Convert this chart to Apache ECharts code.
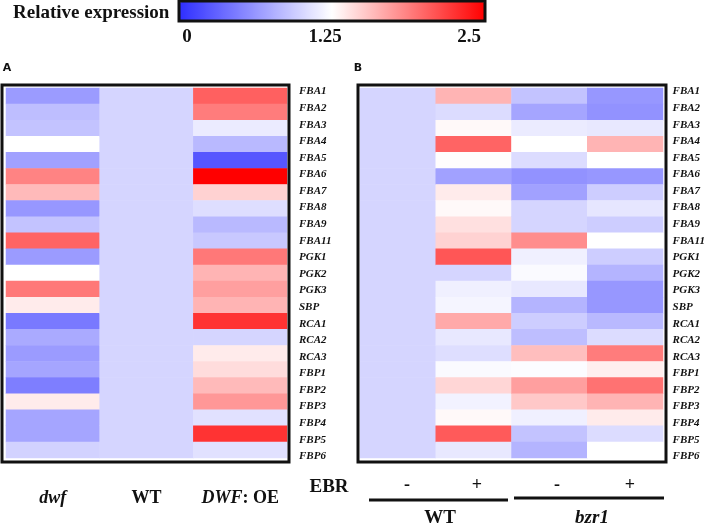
<!DOCTYPE html>
<html>
<head>
<meta charset="utf-8">
<script src="https://cdn.jsdelivr.net/npm/echarts@6/dist/echarts.min.js"></script>
<style>
html,body{margin:0;padding:0;background:#fff;}
#c{width:708px;height:528px;}
</style>
</head>
<body>
<div id="c"></div>
<script>
// ---- data ----
const genes = ['FBA1','FBA2','FBA3','FBA4','FBA5','FBA6','FBA7','FBA8','FBA9','FBA11',
  'PGK1','PGK2','PGK3','SBP','RCA1','RCA2','RCA3','FBP1','FBP2','FBP3','FBP4','FBP5','FBP6'];
const colsA = ['dwf', 'WT', 'DWF: OE'];
const colsB = ['WT -', 'WT +', 'bzr1 -', 'bzr1 +'];
const signsB = ['-', '+', '-', '+'];
const groupsB = ['WT', 'bzr1'];
const scaleTicks = ['0', '1.25', '2.5'];

const dwf   = [0.65,0.86,0.89,1.25,0.69,1.86,1.59,0.63,0.89,2.01,0.65,1.25,1.91,1.35,0.45,0.74,0.65,0.71,0.48,1.35,0.71,0.71,0.98];
const wtA   = [1,1,1,1,1,1,1,1,1,1,1,1,1,1,1,1,1,1,1,1,1,1,1];
const dwfOE = [2.03,1.89,1.13,0.83,0.24,2.50,1.47,1.05,0.83,0.92,1.91,1.62,1.72,1.62,2.25,1.00,1.35,1.42,1.59,1.76,1.07,2.25,1.07];

const wtMinus   = [1,1,1,1,1,1,1,1,1,1,1,1,1,1,1,1,1,1,1,1,1,1,1];
const wtPlus    = [1.62,1.04,1.28,2.01,1.26,0.69,1.35,1.28,1.40,1.47,2.08,1.00,1.16,1.19,1.67,1.11,1.05,1.22,1.45,1.17,1.28,2.06,1.11];
const bzr1Minus = [0.89,0.71,1.13,1.25,1.04,0.60,0.69,1.00,1.00,1.81,1.16,1.22,1.11,0.80,0.95,0.86,1.57,1.23,1.72,1.52,1.16,0.89,0.80];
const bzr1Plus  = [0.63,0.60,1.11,1.62,1.25,0.63,0.95,1.10,0.95,1.25,0.95,0.80,0.63,0.63,0.83,1.04,1.89,1.33,1.94,1.62,1.35,1.04,1.25];

// ---- build ----
function toCells(cols) {
  const out = [];
  cols.forEach((col, i) => col.forEach((v, j) => out.push([i, j, v])));
  return out;
}
const dataA = toCells([dwf, wtA, dwfOE]);
const dataB = toCells([wtMinus, wtPlus, bzr1Minus, bzr1Plus]);

const serif = '"Liberation Serif", "Times New Roman", serif';
const rowLabel = {
  show: true, align: 'left', fontFamily: serif, fontStyle: 'italic',
  fontWeight: 'bold', fontSize: 11, color: '#111', interval: 0
};

const chart = echarts.init(document.getElementById('c'), null, {renderer: 'canvas'});
const option = {
  animation: false,
  backgroundColor: '#fff',
  grid: [
    {left: 6, top: 88, width: 281, height: 370},
    {left: 360, top: 88, width: 303, height: 370},
    {left: 6, top: 83.3, width: 281, height: 381.3},
    {left: 360, top: 83.3, width: 303, height: 381.3}
  ],
  xAxis: [
    {type: 'category', gridIndex: 0, data: colsA,
     axisLine: {show: false}, axisTick: {show: false}, splitLine: {show: false},
     axisLabel: {
       interval: 0, hideOverlap: false,
       margin: 31, fontFamily: serif, fontWeight: 'bold', fontSize: 18, color: '#111',
       formatter: v => v === 'dwf' ? '{i|dwf}' : (v === 'DWF: OE' ? '{i|DWF}{n|: OE}' : '{n|' + v + '}'),
       rich: {
         i: {fontFamily: serif, fontWeight: 'bold', fontStyle: 'italic', fontSize: 18, color: '#111'},
         n: {fontFamily: serif, fontWeight: 'bold', fontSize: 18, color: '#111'}
       }
     }},
    {type: 'category', gridIndex: 1, data: colsB, show: false},
    {type: 'value', gridIndex: 2, show: false},
    {type: 'value', gridIndex: 3, show: false}
  ],
  yAxis: [
    {type: 'category', gridIndex: 0, data: genes, inverse: true, show: false},
    {type: 'category', gridIndex: 1, data: genes, inverse: true, show: false},
    {type: 'category', gridIndex: 2, data: genes, inverse: true, position: 'right',
     axisLine: {show: false}, axisTick: {show: false}, splitLine: {show: false},
     axisLabel: Object.assign({margin: 12}, rowLabel)},
    {type: 'category', gridIndex: 3, data: genes, inverse: true, position: 'right',
     axisLine: {show: false}, axisTick: {show: false}, splitLine: {show: false},
     axisLabel: Object.assign({margin: 16}, rowLabel)}
  ],
  visualMap: {
    type: 'continuous', min: 0, max: 2.5, orient: 'horizontal',
    left: 179, top: 2, itemWidth: 19, itemHeight: 306, padding: 0,
    calculable: false, hoverLink: false, text: null, showLabel: false,
    textStyle: {color: 'rgba(0,0,0,0)'},
    seriesIndex: [0, 1],
    inRange: {color: ['#2e2eff', '#ffffff', '#ff0000']}
  },
  series: [
    {type: 'heatmap', xAxisIndex: 0, yAxisIndex: 0, data: dataA,
     itemStyle: {borderWidth: 0}, emphasis: {disabled: true}},
    {type: 'heatmap', xAxisIndex: 1, yAxisIndex: 1, data: dataB,
     itemStyle: {borderWidth: 0}, emphasis: {disabled: true}}
  ],
  graphic: [
    {type: 'text', left: 13, top: 4, style: {text: 'Relative expression', font: 'bold 19px ' + serif, fill: '#111'}},
    {type: 'rect', shape: {x: 179, y: 1, width: 306, height: 20}, style: {fill: null, stroke: '#111', lineWidth: 3}, z: 100},
    {type: 'text', x: 187, y: 37, style: {text: scaleTicks[0], font: 'bold 19px ' + serif, fill: '#111', align: 'center', verticalAlign: 'middle'}},
    {type: 'text', x: 325, y: 37, style: {text: scaleTicks[1], font: 'bold 19px ' + serif, fill: '#111', align: 'center', verticalAlign: 'middle'}},
    {type: 'text', x: 469, y: 37, style: {text: scaleTicks[2], font: 'bold 19px ' + serif, fill: '#111', align: 'center', verticalAlign: 'middle'}},
    {type: 'text', x: 7, y: 68, style: {text: 'A', font: 'bold 11px "DejaVu Sans", sans-serif', fill: '#111', align: 'center', verticalAlign: 'middle'}},
    {type: 'text', x: 358, y: 68, style: {text: 'B', font: 'bold 11px "DejaVu Sans", sans-serif', fill: '#111', align: 'center', verticalAlign: 'middle'}},
    {type: 'rect', shape: {x: 2, y: 85, width: 287, height: 377}, style: {fill: null, stroke: '#111', lineWidth: 3}, z: 100},
    {type: 'rect', shape: {x: 358, y: 85, width: 308, height: 377}, style: {fill: null, stroke: '#111', lineWidth: 3}, z: 100},
    {type: 'text', x: 329, y: 487, style: {text: 'EBR', font: 'bold 19px ' + serif, fill: '#111', align: 'center', verticalAlign: 'middle'}},
    {type: 'text', x: 407, y: 485, style: {text: signsB[0], font: 'bold 18px ' + serif, fill: '#111', align: 'center', verticalAlign: 'middle'}},
    {type: 'text', x: 477, y: 485, style: {text: signsB[1], font: 'bold 18px ' + serif, fill: '#111', align: 'center', verticalAlign: 'middle'}},
    {type: 'text', x: 557, y: 485, style: {text: signsB[2], font: 'bold 18px ' + serif, fill: '#111', align: 'center', verticalAlign: 'middle'}},
    {type: 'text', x: 630, y: 485, style: {text: signsB[3], font: 'bold 18px ' + serif, fill: '#111', align: 'center', verticalAlign: 'middle'}},
    {type: 'line', shape: {x1: 369, y1: 500, x2: 508, y2: 500}, style: {stroke: '#111', lineWidth: 3}},
    {type: 'line', shape: {x1: 514, y1: 498, x2: 664, y2: 498}, style: {stroke: '#111', lineWidth: 3}},
    {type: 'text', x: 440, y: 518, style: {text: groupsB[0], font: 'bold 19px ' + serif, fill: '#111', align: 'center', verticalAlign: 'middle'}},
    {type: 'text', x: 592, y: 518, style: {text: groupsB[1], font: 'italic bold 19px ' + serif, fill: '#111', align: 'center', verticalAlign: 'middle'}}
  ]
};
chart.setOption(option);
</script>
</body>
</html>
